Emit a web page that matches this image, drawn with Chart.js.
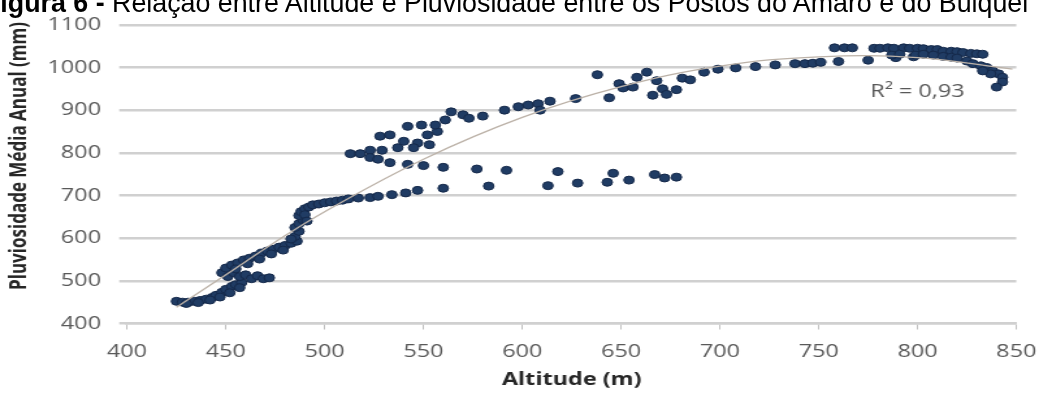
<!DOCTYPE html>
<html><head><meta charset="utf-8">
<script src="https://cdn.jsdelivr.net/npm/chart.js@4.4.1/dist/chart.umd.min.js"></script>
<style>
html,body{margin:0;padding:0;background:#fff;overflow:hidden;width:1052px;height:393px;}
#wrap{position:absolute;left:0;top:0;width:809px;height:393px;transform:scaleX(1.30037);transform-origin:0 0;}
#title{position:absolute;left:-16px;top:-10px;font-family:"Liberation Sans",Arial,sans-serif;font-size:26.8px;line-height:26.8px;white-space:nowrap;color:#000;z-index:2;}
</style></head><body>
<div id="wrap"><canvas id="c" width="809" height="393"></canvas></div>
<div id="title"><b>Figura 6 -</b> Relação entre Altitude e Pluviosidade entre os Postos do Amaro e do Bulquel</div>
<script>
// ---- data ----
const altitude = [425,428,431,434,437,440,443,445,448,450,453,455,458,
  448,451,454,457,460,463,466,469,472,
  450,453,456,459,462,465,468,471,474,477,480,483,486,
  485,487,485,487,489,487,488,490,
  492,494,497,500,503,506,509,512,517,523,527,534,541,547,560,583,
  533,542,550,560,577,592,
  613,618,628,643,646,654,667,672,678,
  513,518,523,523,527,529,537,540,547,553,545,528,533,542,549,552,557,556,561,564,570,573,580,591,598,603,608,609,614,627,638,644,649,651,656,658,663,668,671,666,673,678,681,685,692,699,708,718,728,738,743,747,751,760,775,789,798,
  758,763,767,778,781,785,788,793,796,800,803,807,810,813,817,820,823,827,830,833,
  787,791,799,803,808,813,817,820,
  825,828,832,835,838,841,843,843,840,837,833,
  455,461,467,473,479,483,490,491,442,447,452,457,430,436];
const rainfall = [452,450,450,452,454,457,461,466,473,480,487,491,496,
  519,510,519,510,514,505,512,505,507,
  530,537,542,549,553,558,565,570,574,579,583,588,593,
  604,616,625,634,643,653,662,669,
  673,678,680,683,685,687,689,692,694,695,698,702,706,712,717,722,
  777,773,770,766,762,759,
  723,756,729,731,752,736,749,741,743,
  798,798,806,789,785,806,812,827,823,819,812,839,842,862,865,842,850,865,877,896,889,881,886,900,908,912,915,900,921,927,983,929,962,952,954,977,989,969,950,935,937,948,975,971,989,996,999,1002,1006,1009,1009,1010,1012,1014,1017,1023,1025,
  1046,1046,1046,1045,1045,1046,1045,1046,1045,1045,1044,1042,1042,1038,1038,1037,1035,1033,1032,1031,
  1029,1031,1029,1031,1029,1026,1024,1022,
  1015,1009,1004,1000,992,985,977,966,954,985,992,
  528,540,551,563,572,598,655,640,455,462,472,484,447,449];
const trendAltitude = [425,450,475,500,550,600,650,700,750,800,848];
const trendRainfall = [438,514,591,662,785,883,955,1003,1025,1023,996];
const xTickValues = [400,450,500,550,600,650,700,750,800,850];
const yTickValues = [400,500,600,700,800,900,1000,1100];
const xAxisTitle = 'Altitude (m)';
const yAxisTitle = 'Pluviosidade Média Anual (mm)';
const r2Label = 'R² = 0,93';
const r2At = [800, 943];

// ---- layout (canvas units, canvas is stretched horizontally like the original) ----
const CW = 809, CH = 393;
const plotLeft = 97.7, plotRight = 789.8, plotTop = 20, plotBottom = 323.5;
const yTitleX = 15.4, yTitleY = 156;

const points = altitude.map((a, i) => ({x: a, y: rainfall[i]}));
const trend = trendAltitude.map((a, i) => ({x: a, y: trendRainfall[i]}));

const extraText = {
  id: 'extraText',
  afterDraw(chart) {
    const {ctx, scales: {x, y}} = chart;
    ctx.save();
    ctx.fillStyle = '#595959';
    ctx.font = '18px "Open Sans"';
    ctx.textAlign = 'center';
    ctx.textBaseline = 'middle';
    ctx.fillText(r2Label, x.getPixelForValue(r2At[0]), y.getPixelForValue(r2At[1]));
    ctx.translate(yTitleX, yTitleY);
    ctx.rotate(-Math.PI / 2);
    ctx.fillStyle = '#262626';
    ctx.font = 'bold 17px "Open Sans"';
    ctx.fillText(yAxisTitle, 0, 0);
    ctx.restore();
  }
};

new Chart(document.getElementById('c'), {
  type: 'scatter',
  data: {
    datasets: [
      {type: 'line', data: trend, borderColor: '#bcb2a8', borderWidth: 1.3, pointRadius: 0, tension: 0.4, fill: false, order: 0},
      {data: points, backgroundColor: '#203c64', borderColor: '#15294a', borderWidth: 1, pointRadius: 4, pointHoverRadius: 4, order: 1}
    ]
  },
  options: {
    responsive: false, animation: false, devicePixelRatio: 1,
    layout: {padding: {top: plotTop, right: CW - plotRight, left: 0, bottom: 0}},
    plugins: {legend: {display: false}, tooltip: {enabled: false}, title: {display: false}},
    scales: {
      x: {
        type: 'linear', min: 400, max: 850,
        afterBuildTicks: s => { s.ticks = xTickValues.map(v => ({value: v})); },
        afterFit: s => { s.height = CH - plotBottom; },
        grid: {display: true, drawOnChartArea: false, drawTicks: true, tickLength: 6, color: '#bfbfbf', lineWidth: 1},
        border: {display: true, color: '#d0d0d0', width: 2.5},
        ticks: {font: {family: '"Open Sans"', size: 18}, color: '#595959', padding: 12, maxRotation: 0, autoSkip: false, callback: v => String(v)},
        title: {display: true, text: xAxisTitle, font: {family: '"Open Sans"', size: 18, weight: 'bold'}, color: '#262626', padding: {top: 0, bottom: 2}}
      },
      y: {
        type: 'linear', min: 400, max: 1100,
        afterBuildTicks: s => { s.ticks = yTickValues.map(v => ({value: v})); },
        afterFit: s => { s.width = plotLeft; },
        grid: {color: '#d0d0d0', lineWidth: 2.5, drawTicks: true, tickLength: 6},
        border: {display: false},
        ticks: {font: {family: '"Open Sans"', size: 18}, color: '#595959', padding: 14, callback: v => String(v)}
      }
    }
  },
  plugins: [extraText]
});
</script>
</body></html>
